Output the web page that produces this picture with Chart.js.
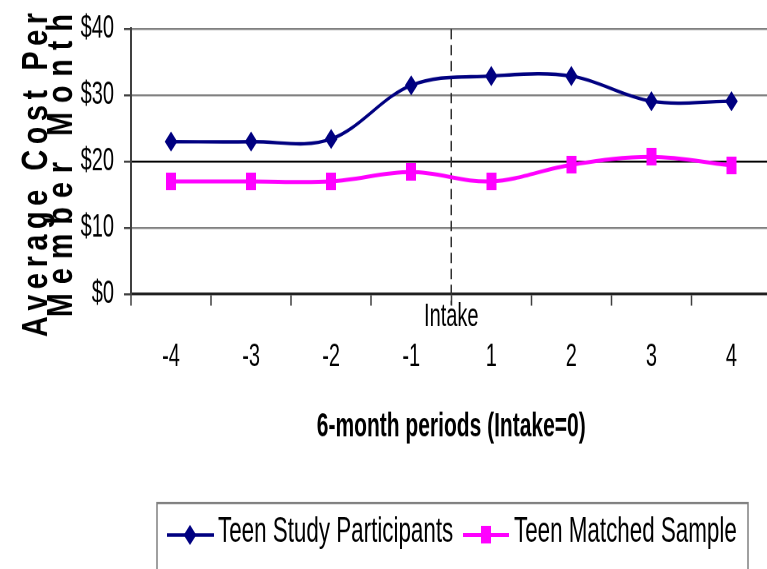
<!DOCTYPE html>
<html>
<head>
<meta charset="utf-8">
<script src="https://cdn.jsdelivr.net/npm/chart.js@4/dist/chart.umd.min.js"></script>
<style>
  html, body { margin: 0; padding: 0; background: #fff; overflow: hidden; }
  #wrap { width: 767px; height: 569px; overflow: hidden; }
  #c { display: block; }
</style>
</head>
<body>
<div id="wrap"><canvas id="c"></canvas></div>
<script>
// Six-month periods around intake (intake itself sits between -1 and 1)
const periods = ['-4', '-3', '-2', '-1', '1', '2', '3', '4'];
const participantCost = [23.0, 23.0, 23.4, 31.5, 32.9, 32.9, 29.1, 29.1];
const matchedCost = [17.0, 17.0, 17.0, 18.4, 17.0, 19.5, 20.7, 19.4];
const costTicks = [0, 10, 20, 30, 40];
const seriesNames = ['Teen Study Participants', 'Teen Matched Sample'];
const yTitleLines = ['Average Cost Per', 'Member Month'];
const xTitle = '6-month periods (Intake=0)';
const intakeLabel = 'Intake';
const intakePosition = 3.5; // boundary between period -1 and period 1

// The canvas is drawn short and shown tall, giving the tall, narrow lettering.
const CANVAS_H = 356;
const STRETCH = 569 / CANVAS_H;
const v = y => y / STRETCH; // page y -> canvas y
const PLOT_RIGHT = 771;     // plot runs slightly past the visible edge

const FONT = '"Liberation Sans", Arial, Helvetica, sans-serif';
const NAVY = '#000080';
const MAGENTA = '#FF00FF';

// square marker for the matched sample
const squareMark = document.createElement('canvas');
squareMark.width = 10; squareMark.height = 11;
(function () {
  const g = squareMark.getContext('2d');
  g.fillStyle = MAGENTA;
  g.fillRect(0, 0, 10, 11);
})();

function drawSpacedUpward(ctx, text, baselineX, bottomY, topY, squeeze) {
  ctx.save();
  ctx.translate(baselineX, bottomY);
  ctx.rotate(-Math.PI / 2);
  ctx.textAlign = 'left';
  ctx.textBaseline = 'alphabetic';
  const chars = [...text];
  const widths = chars.map(ch => ctx.measureText(ch).width);
  const total = widths.reduce((a, b) => a + b, 0) * squeeze;
  const gap = (bottomY - topY - total) / (chars.length - 1);
  let pos = 0;
  chars.forEach((ch, i) => {
    ctx.save();
    ctx.translate(pos, 0);
    ctx.scale(squeeze, 1);
    ctx.fillText(ch, 0, 0);
    ctx.restore();
    pos += widths[i] * squeeze + gap;
  });
  ctx.restore();
}

const decorations = {
  id: 'decorations',
  beforeDatasetsDraw(chart) {
    const { ctx, scales: { x, y } } = chart;
    const px = x.getPixelForValue(intakePosition);
    ctx.save();
    ctx.strokeStyle = '#303030';
    ctx.lineWidth = 1.5;
    ctx.setLineDash([6.5, 3.5]);
    ctx.beginPath();
    ctx.moveTo(px, y.getPixelForValue(40));
    ctx.lineTo(px, v(305));
    ctx.stroke();
    ctx.restore();
  },
  afterDraw(chart) {
    const { ctx, scales: { x } } = chart;
    ctx.save();
    ctx.fillStyle = '#000';

    // intake marker label
    ctx.font = '20px ' + FONT;
    ctx.textAlign = 'center';
    ctx.textBaseline = 'middle';
    ctx.fillText(intakeLabel, x.getPixelForValue(intakePosition), v(317));

    // y axis title, two spaced lines reading upward
    ctx.font = 'bold 36px ' + FONT;
    drawSpacedUpward(ctx, yTitleLines[0], 47, v(337), v(13), 0.5);
    drawSpacedUpward(ctx, yTitleLines[1], 72, v(317), v(14), 0.5);

    // legend box
    ctx.strokeStyle = '#808080';
    ctx.lineWidth = 1.5;
    ctx.strokeRect(157, v(503), 591, CANVAS_H);

    const ly = v(535);
    const items = [
      { x0: 167, x1: 214, mx: 190, tx: 218, color: NAVY, lw: 2.2, label: chart.data.datasets[0].label, mark: 'diamond' },
      { x0: 463, x1: 509, mx: 486, tx: 514, color: MAGENTA, lw: 2.5, label: chart.data.datasets[1].label, mark: 'square' }
    ];
    items.forEach(it => {
      ctx.strokeStyle = it.color;
      ctx.lineWidth = it.lw;
      ctx.beginPath();
      ctx.moveTo(it.x0, ly);
      ctx.lineTo(it.x1, ly);
      ctx.stroke();
      if (it.mark === 'diamond') {
        const r = 6.3;
        ctx.fillStyle = it.color;
        ctx.beginPath();
        ctx.moveTo(it.mx - r, ly);
        ctx.lineTo(it.mx, ly - r);
        ctx.lineTo(it.mx + r, ly);
        ctx.lineTo(it.mx, ly + r);
        ctx.closePath();
        ctx.fill();
      } else {
        ctx.drawImage(squareMark, it.mx - squareMark.width / 2, ly - squareMark.height / 2);
      }
      ctx.fillStyle = '#000';
      ctx.font = '22.4px ' + FONT;
      ctx.textAlign = 'left';
      ctx.textBaseline = 'middle';
      ctx.fillText(it.label, it.tx, v(532));
    });
    ctx.restore();
  }
};

function makeConfig() {
  return {
    type: 'line',
    data: {
      labels: periods,
      datasets: [
        {
          label: seriesNames[0],
          data: participantCost,
          borderColor: NAVY,
          backgroundColor: NAVY,
          borderWidth: 2.2,
          tension: 0.35,
          pointStyle: 'rectRot',
          pointRadius: 6.3,
          pointBorderWidth: 0,
          pointBackgroundColor: NAVY,
          pointBorderColor: NAVY
        },
        {
          label: seriesNames[1],
          data: matchedCost,
          borderColor: MAGENTA,
          backgroundColor: MAGENTA,
          borderWidth: 2.5,
          tension: 0.35,
          pointStyle: squareMark,
          pointRadius: 6,
          pointBackgroundColor: MAGENTA,
          pointBorderColor: MAGENTA
        }
      ]
    },
    options: {
      responsive: false,
      devicePixelRatio: 2,
      animation: false,
      layout: { padding: { top: v(29), left: 0, right: 0, bottom: 0 } },
      plugins: { legend: { display: false }, tooltip: { enabled: false } },
      scales: {
        x: {
          type: 'category',
          offset: true,
          grid: {
            offset: true,
            drawOnChartArea: false,
            drawTicks: true,
            tickLength: 7.3,
            tickColor: '#404040',
            tickWidth: 1.5
          },
          border: { display: true, color: '#202020', width: 1.6 },
          ticks: {
            color: '#000',
            font: { family: FONT, size: 20 },
            padding: 20,
            maxRotation: 0,
            autoSkip: false
          },
          title: {
            display: true,
            text: xTitle,
            color: '#000',
            font: { family: FONT, size: 21, weight: 'bold' },
            padding: { top: 0, bottom: CANVAS_H - v(427) - 12.6 }
          },
          afterFit(scale) {
            scale.height = CANVAS_H - v(294);
          }
        },
        y: {
          min: 0,
          max: 40,
          afterBuildTicks(scale) { scale.ticks = costTicks.map(val => ({ value: val })); },
          grid: {
            color: ctx => (ctx.tick && ctx.tick.value === 20 ? '#000000' : '#808080'),
            lineWidth: 1.3,
            tickLength: 7,
            tickColor: '#404040',
            tickWidth: 1.3
          },
          border: { display: true, color: '#404040', width: 2 },
          ticks: {
            color: '#000',
            font: { family: FONT, size: 20 },
            padding: 10,
            callback: val => '$' + val
          },
          afterFit(scale) {
            scale.width = 131;
            scale.paddingTop = 0;
            scale.paddingBottom = 0;
          }
        }
      }
    },
    plugins: [decorations]
  };
}

const canvas = document.getElementById('c');
function build(width) {
  canvas.setAttribute('width', String(width));
  canvas.setAttribute('height', String(CANVAS_H));
  canvas.style.width = width + 'px';
  canvas.style.height = '569px';
  return new Chart(canvas, makeConfig());
}

// size the canvas so the plot area reaches PLOT_RIGHT
let chart = build(PLOT_RIGHT);
const shortfall = Math.round(PLOT_RIGHT - chart.chartArea.right);
if (shortfall !== 0) {
  chart.destroy();
  chart = build(PLOT_RIGHT + shortfall);
}
</script>
</body>
</html>
